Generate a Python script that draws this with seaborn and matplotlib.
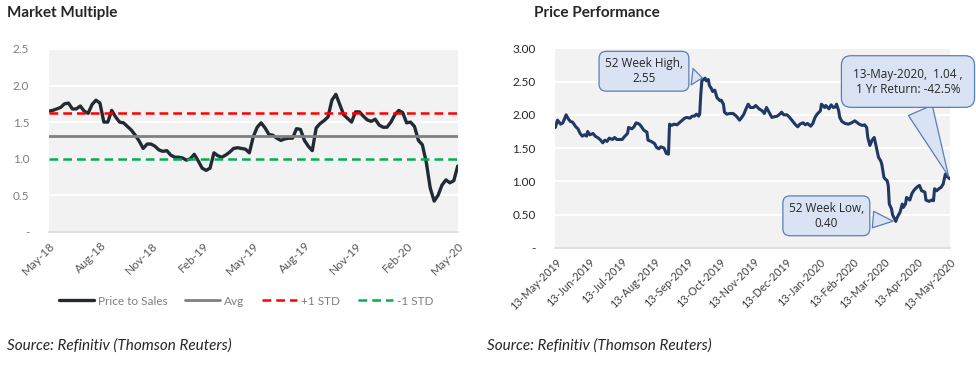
import pandas as pd
import numpy as np
import matplotlib
matplotlib.use("Agg")
import matplotlib.pyplot as plt
import matplotlib.dates as mdates
from matplotlib.lines import Line2D
from matplotlib.ticker import FuncFormatter
import seaborn as sns

# --- Market multiple (weekly, May-18 .. May-20) ---
ps_values = [1.65, 1.66, 1.68, 1.70, 1.75, 1.76, 1.68, 1.68, 1.72, 1.65,
             1.62, 1.74, 1.80, 1.76, 1.50, 1.50, 1.66, 1.57, 1.50, 1.49,
             1.44, 1.39, 1.32, 1.24, 1.14, 1.20, 1.20, 1.17, 1.12, 1.10,
             1.11, 1.05, 1.02, 1.02, 1.01, 0.98, 1.00, 1.06, 0.97, 0.87,
             0.84, 0.87, 1.08, 1.04, 1.02, 1.05, 1.09, 1.14, 1.15, 1.14,
             1.13, 1.08, 1.30, 1.43, 1.49, 1.42, 1.33, 1.32, 1.28, 1.25,
             1.27, 1.28, 1.28, 1.41, 1.40, 1.25, 1.17, 1.11, 1.42, 1.48,
             1.52, 1.57, 1.80, 1.88, 1.74, 1.60, 1.55, 1.50, 1.64, 1.64,
             1.58, 1.53, 1.51, 1.54, 1.46, 1.43, 1.43, 1.50, 1.60, 1.66,
             1.63, 1.49, 1.50, 1.44, 1.25, 1.19, 0.95, 0.60, 0.42, 0.50,
             0.64, 0.71, 0.67, 0.70, 0.90]
ps_avg = 1.31
ps_plus_std = 1.63
ps_minus_std = 0.99
mm_start, mm_end = "2018-05-01", "2020-05-01"

# --- Price performance (days after 13-May-2019, price) ---
pp_days = [0, 2, 5, 7, 10, 12, 14, 16, 19, 21, 23, 25, 27, 29, 30, 32, 35, 37,
           40, 42, 44, 46, 48, 50, 53, 55, 57, 60, 62, 64, 67, 68, 71, 73, 75,
           78, 80, 82, 85, 86, 89, 92, 94, 96, 98, 101, 103, 105, 106, 108,
           110, 113, 115, 118, 120, 122, 125, 127, 129, 131, 133, 134, 135,
           136, 139, 140, 142, 143, 145, 146, 148, 150, 151, 153, 154, 156,
           157, 159, 162, 165, 168, 171, 173, 175, 177, 179, 181, 184, 186,
           189, 192, 194, 196, 199, 201, 203, 206, 209, 210, 212, 215, 217,
           220, 223, 225, 227, 230, 232, 234, 237, 239, 241, 243, 246, 247,
           250, 251, 254, 256, 258, 260, 261, 263, 264, 266, 269, 272, 275,
           278, 282, 285, 287, 289, 290, 292, 294, 296, 298, 300, 302, 303,
           305, 306, 308, 309, 310, 312, 313, 316, 317, 320, 322, 323, 325,
           326, 329, 331, 333, 336, 338, 340, 343, 344, 347, 349, 351, 352,
           354, 356, 358, 360, 362, 364, 366]
pp_price = [1.81, 1.92, 1.86, 1.88, 2.00, 1.94, 1.90, 1.89, 1.82, 1.79, 1.72,
            1.68, 1.70, 1.68, 1.75, 1.70, 1.72, 1.68, 1.65, 1.62, 1.58, 1.62,
            1.60, 1.65, 1.63, 1.66, 1.63, 1.63, 1.63, 1.67, 1.72, 1.81, 1.79,
            1.82, 1.88, 1.86, 1.82, 1.77, 1.74, 1.62, 1.60, 1.57, 1.51, 1.49,
            1.52, 1.50, 1.42, 1.41, 1.86, 1.84, 1.86, 1.85, 1.88, 1.92, 1.95,
            1.96, 1.95, 1.98, 1.98, 2.01, 1.98, 2.01, 2.31, 2.51, 2.55, 2.51,
            2.53, 2.44, 2.39, 2.35, 2.37, 2.26, 2.24, 2.21, 2.22, 2.16, 2.04,
            2.01, 2.02, 2.02, 1.98, 1.92, 1.96, 2.01, 2.09, 2.16, 2.11, 2.11,
            2.14, 2.09, 2.06, 2.02, 2.11, 2.02, 1.96, 1.97, 1.98, 2.02, 2.04,
            2.00, 2.00, 1.97, 1.91, 1.85, 1.82, 1.86, 1.88, 1.85, 1.87, 1.83,
            1.87, 1.96, 2.01, 2.06, 2.16, 2.11, 2.14, 2.09, 2.15, 2.11, 2.12,
            2.16, 2.06, 1.96, 1.90, 1.87, 1.86, 1.88, 1.91, 1.86, 1.84, 1.85,
            1.81, 1.66, 1.54, 1.62, 1.66, 1.51, 1.36, 1.31, 1.26, 1.06, 1.04,
            1.01, 0.94, 0.66, 0.59, 0.50, 0.40, 0.45, 0.54, 0.66, 0.61, 0.66,
            0.76, 0.72, 0.82, 0.87, 0.92, 0.94, 0.86, 0.84, 0.72, 0.70, 0.72,
            0.71, 0.89, 0.86, 0.89, 0.91, 0.96, 1.11, 1.07, 1.04]
pp_start = "2019-05-13"
high_label = "52 Week High,\n2.55"
low_label = "52 Week Low,\n0.40"
last_label = "13-May-2020,  1.04 ,\n1 Yr Return: -42.5%"
source = "Source: Refinitiv (Thomson Reuters)"

mm = pd.DataFrame({"date": pd.date_range(mm_start, mm_end, periods=len(ps_values)),
                   "ps": ps_values})
pp = pd.DataFrame({"date": pd.Timestamp(pp_start) + pd.to_timedelta(pp_days, unit="D"),
                   "price": pp_price})

sns.set_style("white")
plt.rcParams["font.family"] = ["Lato", "DejaVu Sans"]

fig = plt.figure(figsize=(9.76, 3.68), dpi=100)
ax1 = fig.add_axes([0.050, 0.370, 0.419, 0.497])
ax2 = fig.add_axes([0.569, 0.326, 0.404, 0.543])

bg = "#F2F2F2"
for ax in (ax1, ax2):
    ax.set_facecolor(bg)
    for s in ("top", "right", "left"):
        ax.spines[s].set_visible(False)
    ax.spines["bottom"].set_color("#D9D9D9")
    ax.spines["bottom"].set_linewidth(1.2)
    ax.grid(axis="y", color="white", linewidth=1.5)
    ax.set_axisbelow(True)

# left chart
sns.lineplot(data=mm, x="date", y="ps", ax=ax1, color="#222A35", linewidth=2.4)
ax1.axhline(ps_avg, color="#808080", linewidth=2)
ax1.axhline(ps_plus_std, color="#FF0000", linewidth=1.8, linestyle=(0, (3.5, 2)))
ax1.axhline(ps_minus_std, color="#00B050", linewidth=1.8, linestyle=(0, (3.5, 2)))
ax1.set_xlim(pd.Timestamp(mm_start), pd.Timestamp(mm_end))
ax1.set_ylim(0, 2.5)
ax1.set_yticks(np.arange(0, 2.51, 0.5))
ax1.yaxis.set_major_formatter(FuncFormatter(lambda v, p: "-" if v == 0 else f"{v:.1f}"))
ax1.xaxis.set_major_locator(mdates.MonthLocator(bymonth=[2, 5, 8, 11], bymonthday=1))
ax1.xaxis.set_major_formatter(mdates.DateFormatter("%b-%y"))
ax1.tick_params(axis="y", length=0, labelsize=8.5, labelcolor="#7F7F7F", pad=14)
ax1.tick_params(axis="x", length=4, color="#D9D9D9", labelsize=8.5,
                labelcolor="#595959", labelrotation=45, pad=2)
for lb in ax1.get_xticklabels():
    lb.set_ha("right")
    lb.set_rotation_mode("anchor")
ax1.set_xlabel("")
ax1.set_ylabel("")

handles = [Line2D([], [], color="#222A35", lw=2.4),
           Line2D([], [], color="#808080", lw=2),
           Line2D([], [], color="#FF0000", lw=1.8, ls=(0, (3.5, 2))),
           Line2D([], [], color="#00B050", lw=1.8, ls=(0, (3.5, 2)))]
fig.legend(handles, ["Price to Sales", "Avg", "+1 STD", "-1 STD"],
           loc="center", bbox_to_anchor=(0.252, 0.182), ncol=4, frameon=False,
           fontsize=8.5, labelcolor="#7F7F7F", handlelength=3.0,
           handletextpad=0.3, columnspacing=1.5)

# right chart
sns.lineplot(data=pp, x="date", y="price", ax=ax2, color="#1F3864", linewidth=2.2)
ax2.set_xlim(pd.Timestamp(pp_start), pp["date"].iloc[-1])
ax2.set_ylim(0, 3.0)
ax2.set_yticks(np.arange(0, 3.01, 0.5))
ax2.yaxis.set_major_formatter(FuncFormatter(lambda v, p: "-" if v == 0 else f"{v:.2f}"))
ax2.xaxis.set_major_locator(mdates.MonthLocator(bymonthday=13))
ax2.xaxis.set_major_formatter(mdates.DateFormatter("%d-%b-%Y"))
ax2.tick_params(axis="y", length=0, labelsize=8.5, labelcolor="#262626", pad=14)
ax2.tick_params(axis="x", length=4, color="#D9D9D9", labelsize=7.8,
                labelcolor="#404040", labelrotation=45, pad=2)
for lb in ax2.get_xticklabels():
    lb.set_ha("right")
    lb.set_rotation_mode("anchor")
ax2.set_xlabel("")
ax2.set_ylabel("")

box = dict(boxstyle="round,pad=0.5,rounding_size=0.6", fc="#DAE3F3", ec="#5B7DB8", lw=0.9)
arrow = dict(arrowstyle="wedge,tail_width=1.4,shrink_factor=0.5", fc="#DAE3F3",
             ec="#5B7DB8", lw=0.9)
i_hi = int(np.argmax(pp_price))
i_lo = int(np.argmin(pp_price))
fam = ["Open Sans", "DejaVu Sans"]
ax2.annotate(high_label, xy=(pp["date"].iloc[i_hi], pp_price[i_hi]),
             xytext=(-44, 5), textcoords="offset points", ha="center", va="center",
             fontsize=8.5, color="#262626", bbox=box, arrowprops=arrow, family=fam)
ax2.annotate(low_label, xy=(pp["date"].iloc[i_lo], pp_price[i_lo]),
             xytext=(-50, 4), textcoords="offset points", ha="center", va="center",
             fontsize=8.5, color="#262626", bbox=box, arrowprops=arrow, family=fam)
ax2.annotate(last_label, xy=(pp["date"].iloc[-1], pp_price[-1]),
             xytext=(-30, 70), textcoords="offset points", ha="center", va="center",
             fontsize=8.5, color="#262626",
             bbox=dict(boxstyle="round,pad=1.0,rounding_size=0.8", fc="#DAE3F3",
                       ec="#5B7DB8", lw=0.9),
             arrowprops=dict(arrowstyle="wedge,tail_width=2.2,shrink_factor=0.5",
                             fc="#DAE3F3", ec="#5B7DB8", lw=0.9),
             family=fam)

fig.text(0.007, 0.965, "Market Multiple", fontsize=11, fontweight="bold", va="center")
fig.text(0.547, 0.965, "Price Performance", fontsize=11, fontweight="bold", va="center")
fig.text(0.007, 0.062, source, fontsize=11, style="italic", va="center")
fig.text(0.499, 0.062, source, fontsize=11, style="italic", va="center")

fig.savefig("out.png", dpi=100)
